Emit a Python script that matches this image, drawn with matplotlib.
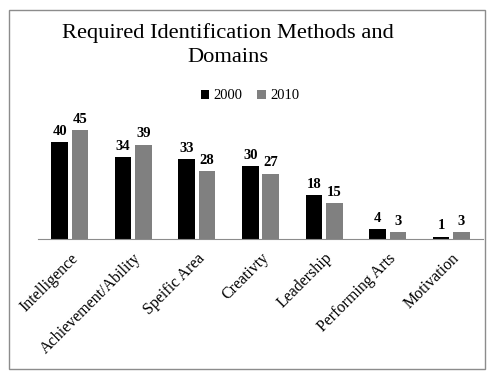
import matplotlib
matplotlib.use("Agg")
import matplotlib.pyplot as plt
import numpy as np
from matplotlib.patches import Rectangle

categories = ["Intelligence", "Achievement/Ability", "Speific Area", "Creativty",
              "Leadership", "Performing Arts", "Motivation"]
vals_2000 = [40, 34, 33, 30, 18, 4, 1]
vals_2010 = [45, 39, 28, 27, 15, 3, 3]

plt.rcParams["font.family"] = ["Liberation Serif", "DejaVu Serif"]

W, H = 496, 383
fig = plt.figure(figsize=(W / 100, H / 100), dpi=100)

# outer chart border
fig.patches.append(Rectangle((9 / W, 1 - 369 / H), 476 / W, 359 / H,
                             transform=fig.transFigure, fill=False,
                             edgecolor="#8c8c8c", linewidth=1.0))

ax = fig.add_axes([38 / W, 1 - 239 / H, 445 / W, 121 / H])
x = np.arange(len(categories))
w = 0.26
off = 0.16
b1 = ax.bar(x - off, vals_2000, w, color="black", label="2000")
b2 = ax.bar(x + off, vals_2010, w, color="#808080", label="2010")
for bars in (b1, b2):
    for r, v in zip(bars, bars.datavalues):
        ax.annotate(f"{v:g}", (r.get_x() + r.get_width() / 2, r.get_height()),
                    xytext=(0, 3), textcoords="offset points",
                    ha="center", va="bottom", fontsize=10.5, fontweight="bold")

ax.set_xlim(-0.5, len(categories) - 0.5)
ax.set_ylim(0, 50)
ax.set_yticks([])
ax.set_xticks(x)
ax.set_xticklabels(categories, rotation=45, ha="right", rotation_mode="anchor",
                   fontsize=11.5)
ax.tick_params(axis="x", length=0, pad=8)
for s in ("top", "left", "right"):
    ax.spines[s].set_visible(False)
ax.spines["bottom"].set_color("#8c8c8c")

fig.text(228 / W, 1 - 33 / H, "Required Identification Methods and", ha="center",
         va="center", fontsize=16.2)
fig.text(228 / W, 1 - 57 / H, "Domains", ha="center", va="center", fontsize=16.2)

fig.legend(handles=[b1, b2], loc="center", bbox_to_anchor=(250 / W, 1 - 96 / H),
           ncol=2, frameon=False, fontsize=10.5, handlelength=0.6, handleheight=0.6,
           handletextpad=0.3, columnspacing=1.0)

fig.savefig("out.png", dpi=100)
